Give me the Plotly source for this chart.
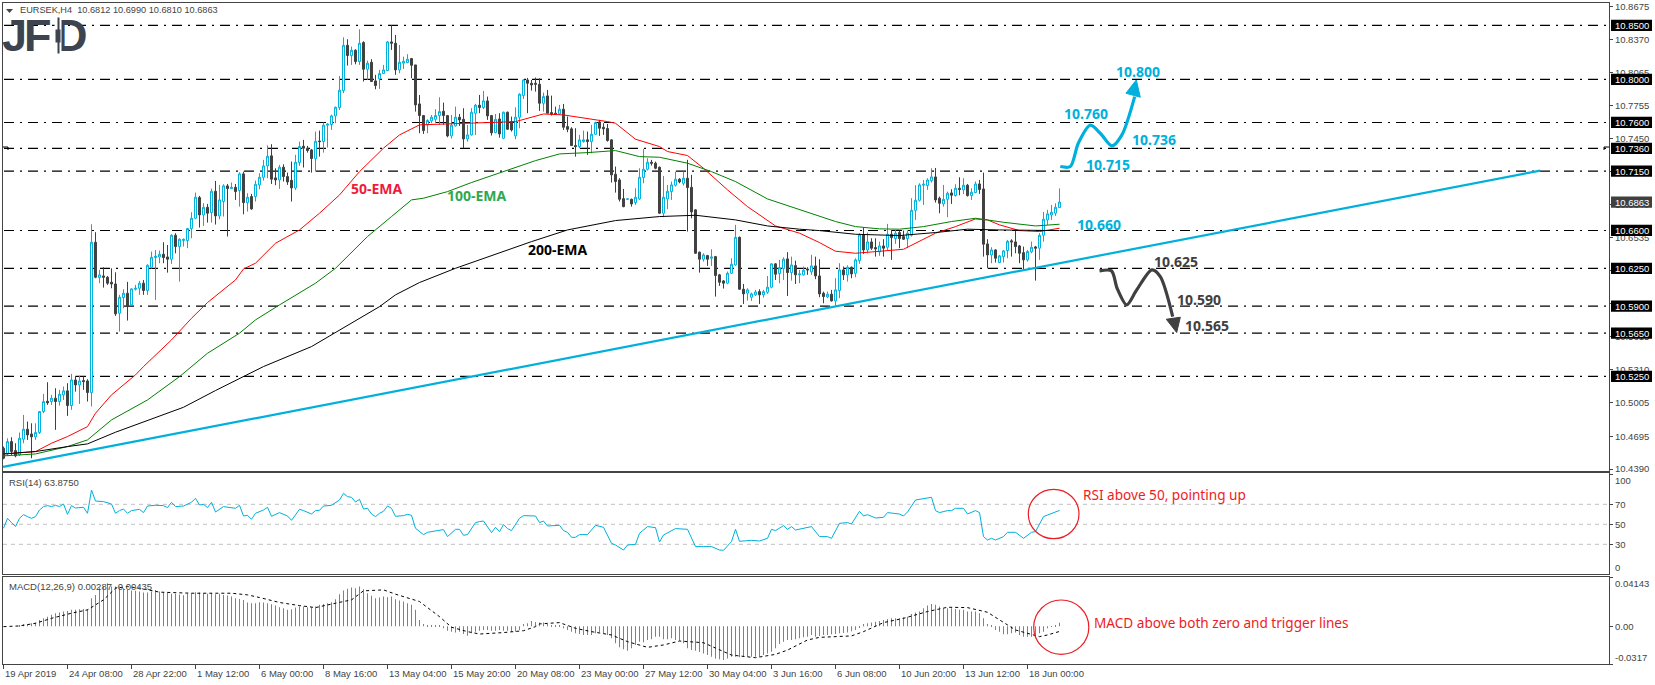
import plotly.graph_objects as go

W = 1655
H = 685

# candle values, one per bar
opens = [10.4584,10.4531,10.4645,10.4562,10.4522,10.4667,10.4760,10.4716,10.4689,10.4729,10.4923,10.5019,10.5016,10.5047,10.5016,10.5078,10.5115,10.4979,10.5216,10.5170,10.5210,10.5207,10.5099,10.6491,10.6164,10.6179,10.6167,10.6121,10.6105,10.5834,10.5979,10.6019,10.5911,10.6056,10.6065,10.6112,10.6044,10.6260,10.6349,10.6355,10.6380,10.6355,10.6334,10.6556,10.6451,10.6507,10.6507,10.6618,10.6713,10.6905,10.6744,10.6815,10.6766,10.6963,10.6735,10.6868,10.7013,10.6988,10.7000,10.6970,10.7124,10.6858,10.6914,10.6914,10.7022,10.7093,10.7198,10.7291,10.7087,10.7068,10.7186,10.7099,10.7065,10.6994,10.7229,10.7380,10.7362,10.7346,10.7266,10.7429,10.7423,10.7575,10.7581,10.7661,10.7738,10.7895,10.8315,10.8220,10.8269,10.8164,10.8340,10.8093,10.8158,10.7985,10.8004,10.8053,10.8081,10.8346,10.8334,10.8087,10.8149,10.8155,10.8192,10.8133,10.7772,10.7664,10.7578,10.7615,10.7630,10.7664,10.7704,10.7664,10.7476,10.7568,10.7649,10.7630,10.7448,10.7485,10.7686,10.7760,10.7738,10.7800,10.7664,10.7507,10.7633,10.7454,10.7695,10.7608,10.7476,10.7649,10.7849,10.7994,10.7963,10.7963,10.7954,10.7778,10.7846,10.7692,10.7686,10.7679,10.7723,10.7562,10.7541,10.7386,10.7377,10.7423,10.7439,10.7423,10.7491,10.7605,10.7556,10.7544,10.7439,10.7121,10.7068,10.6895,10.6889,10.6889,10.6858,10.6892,10.7090,10.7167,10.7232,10.7223,10.7186,10.6760,10.6892,10.6960,10.7019,10.7075,10.7037,10.7084,10.7000,10.6791,10.6399,10.6334,10.6368,10.6343,10.6358,10.6189,10.6133,10.6112,10.6204,10.6281,10.6537,10.6056,10.6019,10.5982,10.6004,10.6034,10.6004,10.6028,10.6075,10.6291,10.6201,10.6247,10.6337,10.6210,10.6275,10.6189,10.6189,10.6244,10.6216,10.6272,10.6179,10.6019,10.5985,10.6010,10.5948,10.6044,10.6235,10.6189,10.6260,10.6204,10.6321,10.6559,10.6420,10.6494,10.6442,10.6402,10.6457,10.6445,10.6565,10.6525,10.6581,10.6544,10.6525,10.6556,10.6787,10.6880,10.7019,10.7016,10.7062,10.7096,10.6899,10.6846,10.6889,10.6948,10.6923,10.6991,10.6976,10.7019,10.6923,10.6951,10.7031,10.6985,10.6476,10.6374,10.6420,10.6303,10.6358,10.6414,10.6504,10.6494,10.6457,10.6395,10.6328,10.6402,10.6448,10.6436,10.6556,10.6698,10.6744,10.6760,10.6812]
highs = [10.4599,10.4676,10.4686,10.4630,10.4729,10.4892,10.4831,10.4815,10.4815,10.4929,10.5087,10.5195,10.5078,10.5139,10.5124,10.5155,10.5186,10.5272,10.5254,10.5254,10.5247,10.5223,10.6658,10.6584,10.6235,10.6260,10.6179,10.6250,10.6213,10.6004,10.6056,10.6124,10.6065,10.6096,10.6133,10.6142,10.6287,10.6405,10.6420,10.6414,10.6491,10.6466,10.6565,10.6575,10.6528,10.6525,10.6624,10.6769,10.6951,10.6920,10.6852,10.6846,10.6988,10.7059,10.7022,10.7028,10.7031,10.7044,10.7031,10.7139,10.7145,10.6945,10.6939,10.7062,10.7130,10.7254,10.7389,10.7399,10.7176,10.7207,10.7213,10.7136,10.7238,10.7300,10.7423,10.7439,10.7383,10.7355,10.7516,10.7525,10.7599,10.7593,10.7673,10.7747,10.8031,10.8389,10.8371,10.8303,10.8278,10.8463,10.8352,10.8173,10.8186,10.8041,10.8087,10.8133,10.8355,10.8500,10.8411,10.8318,10.8210,10.8232,10.8195,10.8133,10.7855,10.7670,10.7630,10.7670,10.7723,10.7834,10.7784,10.7670,10.7670,10.7747,10.7679,10.7732,10.7578,10.7732,10.7772,10.7855,10.7892,10.7840,10.7670,10.7679,10.7686,10.7701,10.7701,10.7655,10.7741,10.7871,10.8000,10.8013,10.7994,10.8016,10.8010,10.7877,10.7902,10.7849,10.7747,10.7763,10.7772,10.7655,10.7556,10.7547,10.7485,10.7525,10.7516,10.7578,10.7608,10.7624,10.7593,10.7587,10.7445,10.7192,10.7084,10.6985,10.6895,10.6895,10.6991,10.7176,10.7355,10.7269,10.7254,10.7238,10.7192,10.7105,10.7022,10.7053,10.7145,10.7084,10.7145,10.7254,10.7115,10.6797,10.6405,10.6389,10.6374,10.6426,10.6365,10.6198,10.6142,10.6220,10.6343,10.6652,10.6544,10.6105,10.6065,10.6025,10.6050,10.6056,10.6050,10.6179,10.6297,10.6297,10.6328,10.6352,10.6399,10.6358,10.6321,10.6235,10.6266,10.6260,10.6374,10.6358,10.6334,10.6034,10.6034,10.6050,10.6158,10.6297,10.6266,10.6278,10.6266,10.6343,10.6575,10.6630,10.6581,10.6528,10.6528,10.6497,10.6519,10.6661,10.6605,10.6605,10.6599,10.6599,10.6599,10.6899,10.7019,10.7037,10.7068,10.7084,10.7176,10.7179,10.6914,10.7022,10.6960,10.6982,10.7028,10.7093,10.7084,10.7031,10.6991,10.7053,10.7068,10.7136,10.6519,10.6445,10.6426,10.6374,10.6420,10.6513,10.6519,10.6612,10.6466,10.6451,10.6420,10.6497,10.6457,10.6575,10.6772,10.6791,10.6837,10.6852,10.6990]
lows = [10.4482,10.4513,10.4522,10.4500,10.4513,10.4630,10.4661,10.4491,10.4661,10.4716,10.4908,10.4985,10.4985,10.4754,10.4979,10.5031,10.4883,10.4939,10.5108,10.4994,10.5124,10.5016,10.4970,10.6158,10.6112,10.6071,10.6096,10.6065,10.5809,10.5664,10.5880,10.5766,10.5902,10.6044,10.6004,10.6004,10.6004,10.6247,10.5957,10.6297,10.6297,10.6210,10.6291,10.6389,10.6127,10.6451,10.6436,10.6528,10.6704,10.6627,10.6642,10.6673,10.6673,10.6655,10.6704,10.6729,10.6544,10.6985,10.6883,10.6821,10.6750,10.6775,10.6791,10.6868,10.6982,10.7062,10.7084,10.7031,10.7019,10.6985,10.7053,10.7022,10.6868,10.6976,10.7198,10.7183,10.7321,10.7136,10.7145,10.7284,10.7321,10.7368,10.7531,10.7593,10.7716,10.7871,10.8127,10.8133,10.8139,10.8133,10.7979,10.7994,10.7976,10.7908,10.7911,10.8050,10.8075,10.8272,10.8041,10.8056,10.8096,10.8149,10.8010,10.7701,10.7500,10.7494,10.7500,10.7593,10.7593,10.7578,10.7578,10.7463,10.7451,10.7562,10.7568,10.7362,10.7423,10.7479,10.7485,10.7686,10.7723,10.7624,10.7479,10.7500,10.7460,10.7445,10.7531,10.7516,10.7445,10.7547,10.7818,10.7686,10.7895,10.7886,10.7707,10.7701,10.7686,10.7664,10.7670,10.7670,10.7531,10.7510,10.7383,10.7284,10.7362,10.7414,10.7300,10.7315,10.7485,10.7476,10.7485,10.7423,10.7044,10.6951,10.6868,10.6815,10.6883,10.6821,10.6837,10.6883,10.7037,10.7155,10.7201,10.7167,10.6754,10.6723,10.6797,10.6883,10.7007,10.7037,10.7016,10.6590,10.6713,10.6383,10.6210,10.6312,10.6272,10.6272,10.5988,10.6087,10.6062,10.6102,10.6198,10.6275,10.6050,10.5920,10.5951,10.5948,10.5994,10.5920,10.5979,10.6013,10.6065,10.6142,10.6112,10.6142,10.5994,10.6136,10.6105,10.6112,10.6183,10.6189,10.6189,10.6149,10.5982,10.5926,10.5973,10.5942,10.5905,10.5973,10.6142,10.6127,10.6158,10.6167,10.6291,10.6383,10.6389,10.6420,10.6358,10.6365,10.6358,10.6420,10.6328,10.6476,10.6436,10.6513,10.6436,10.6544,10.6698,10.6868,10.6837,10.6976,10.7044,10.6858,10.6760,10.6821,10.6723,10.6846,10.6914,10.6926,10.6936,10.6914,10.6883,10.6945,10.6939,10.6358,10.6250,10.6297,10.6303,10.6297,10.6303,10.6343,10.6358,10.6389,10.6297,10.6235,10.6312,10.6389,10.6136,10.6328,10.6497,10.6652,10.6698,10.6735,10.6810]
closes = [10.4491,10.4645,10.4553,10.4513,10.4676,10.4760,10.4707,10.4689,10.4729,10.4923,10.5016,10.5004,10.5047,10.5016,10.5084,10.5115,10.4979,10.5216,10.5170,10.5207,10.5201,10.5099,10.6491,10.6167,10.6189,10.6167,10.6112,10.6105,10.5828,10.5982,10.6019,10.5895,10.6059,10.6065,10.6112,10.6044,10.6278,10.6352,10.6362,10.6380,10.6349,10.6334,10.6556,10.6451,10.6519,10.6519,10.6618,10.6713,10.6908,10.6744,10.6815,10.6760,10.6963,10.6735,10.6883,10.7013,10.6988,10.7000,10.6960,10.7124,10.6858,10.6908,10.6800,10.7028,10.7093,10.7198,10.7287,10.7075,10.7068,10.7186,10.7099,10.7050,10.6994,10.7232,10.7377,10.7362,10.7340,10.7266,10.7426,10.7423,10.7575,10.7584,10.7661,10.7741,10.7899,10.8315,10.8220,10.8269,10.8164,10.8334,10.8093,10.8149,10.7979,10.7942,10.8053,10.8087,10.8346,10.8334,10.8087,10.8158,10.8167,10.8186,10.8130,10.7763,10.7664,10.7525,10.7618,10.7649,10.7664,10.7701,10.7664,10.7476,10.7575,10.7649,10.7624,10.7448,10.7485,10.7695,10.7760,10.7738,10.7800,10.7661,10.7504,10.7630,10.7494,10.7695,10.7537,10.7531,10.7649,10.7862,10.7994,10.7963,10.7948,10.7954,10.7778,10.7840,10.7686,10.7679,10.7676,10.7723,10.7556,10.7537,10.7386,10.7377,10.7439,10.7439,10.7423,10.7491,10.7599,10.7547,10.7541,10.7433,10.7115,10.7053,10.6889,10.6821,10.6892,10.6846,10.6908,10.7093,10.7167,10.7232,10.7223,10.7176,10.6760,10.6908,10.6963,10.7022,10.7075,10.7050,10.7084,10.6997,10.6772,10.6389,10.6334,10.6374,10.6334,10.6355,10.6183,10.6121,10.6112,10.6204,10.6287,10.6537,10.6056,10.6013,10.6050,10.6013,10.6031,10.6004,10.6034,10.6075,10.6291,10.6195,10.6254,10.6334,10.6210,10.6281,10.6189,10.6198,10.6232,10.6235,10.6272,10.6179,10.6013,10.5988,10.6010,10.5948,10.6050,10.6235,10.6189,10.6260,10.6198,10.6328,10.6559,10.6420,10.6494,10.6436,10.6429,10.6457,10.6436,10.6565,10.6534,10.6575,10.6525,10.6519,10.6575,10.6787,10.6880,10.7022,10.7028,10.7068,10.7096,10.6883,10.6852,10.6889,10.6945,10.6926,10.6991,10.6979,10.7019,10.6923,10.6954,10.7031,10.6979,10.6473,10.6374,10.6420,10.6343,10.6365,10.6411,10.6500,10.6494,10.6451,10.6389,10.6328,10.6405,10.6445,10.6436,10.6556,10.6704,10.6754,10.6769,10.6815,10.6863]

ema50_bars = [0,8,12,16,21,23,27,33,35,42,47,51,58,60,63,68,74,79,84,89,95,99,104,111,120,128,135,140,151,153,158,164,166,171,175,181,186,193,199,204,208,213,225,228,233,238,243,246,249,254,259,264]
ema50 = [10.4531,10.4553,10.4630,10.4692,10.4784,10.4908,10.5078,10.5263,10.5340,10.5587,10.5787,10.5933,10.6142,10.6244,10.6297,10.6482,10.6605,10.6760,10.6929,10.7145,10.7362,10.7485,10.7578,10.7587,10.7599,10.7608,10.7679,10.7670,10.7608,10.7593,10.7445,10.7377,10.7331,10.7294,10.7176,10.6976,10.6821,10.6642,10.6575,10.6488,10.6408,10.6389,10.6426,10.6482,10.6575,10.6636,10.6707,10.6698,10.6652,10.6599,10.6590,10.6621]
ema100_bars = [0,8,16,21,27,36,44,51,59,63,69,78,83,91,97,102,105,111,117,126,133,139,146,153,159,164,171,177,183,191,199,208,213,219,224,230,237,243,250,258,264]
ema100 = [10.4513,10.4531,10.4599,10.4661,10.4846,10.5031,10.5247,10.5463,10.5649,10.5772,10.5911,10.6112,10.6250,10.6544,10.6729,10.6883,10.6899,10.6960,10.7044,10.7155,10.7247,10.7309,10.7321,10.7340,10.7284,10.7278,10.7223,10.7145,10.7053,10.6892,10.6797,10.6683,10.6636,10.6615,10.6612,10.6636,10.6683,10.6713,10.6676,10.6642,10.6658]
ema200_bars = [0,8,16,21,28,34,45,53,65,77,83,94,98,104,113,123,132,141,153,164,173,183,191,199,204,213,224,233,241,249,259,264]
ema200 = [10.4531,10.4553,10.4599,10.4624,10.4732,10.4815,10.4963,10.5118,10.5340,10.5525,10.5658,10.5895,10.6004,10.6118,10.6250,10.6383,10.6497,10.6605,10.6692,10.6729,10.6741,10.6698,10.6642,10.6612,10.6599,10.6565,10.6553,10.6581,10.6612,10.6605,10.6599,10.6599]

rsi_bars = [0,1,2,3,4,5,6,7,8,9,10,11,12,13,14,15,16,17,18,20,21,22,23,25,27,28,29,30,31,32,34,35,36,38,40,41,42,43,45,47,48,49,50,51,52,53,55,57,58,59,60,61,62,63,65,66,67,69,71,72,74,75,77,78,79,80,82,84,85,86,87,88,89,90,91,92,93,94,95,96,97,98,100,101,102,103,104,105,106,108,110,111,113,114,115,116,118,119,120,122,123,124,125,126,127,129,130,133,134,135,136,139,140,141,142,143,144,146,148,150,152,153,155,156,158,159,161,163,164,165,168,171,173,175,177,179,180,182,183,184,187,189,191,192,193,195,196,197,198,202,204,206,207,209,210,211,212,214,215,216,218,220,221,224,225,226,228,230,232,233,234,236,237,238,240,241,243,244,245,246,247,248,250,251,253,255,257,258,260,261,264]
rsi = [46.0,56.0,51.7,47.7,56.0,59.7,57.7,56.0,57.7,64.3,67.7,68.7,67.7,69.0,67.7,70.3,60.0,68.7,66.3,67.0,61.0,84.3,73.3,72.7,70.3,61.0,63.7,65.3,61.0,63.7,65.0,61.7,68.3,69.0,68.7,66.7,72.0,67.7,68.3,72.0,76.0,69.3,70.0,66.7,72.0,62.3,67.7,67.0,66.0,69.0,58.3,59.0,55.0,61.0,64.3,67.0,58.0,61.7,58.3,54.0,65.0,63.7,60.3,63.7,64.0,68.3,69.0,74.3,81.0,77.7,77.0,72.3,75.0,65.3,66.0,60.3,57.7,61.0,63.0,68.3,66.0,58.0,58.7,60.0,59.0,46.0,43.3,39.7,42.0,43.7,44.7,37.7,45.0,45.0,39.0,39.7,51.7,52.7,53.3,41.7,47.0,42.7,49.7,45.7,43.7,56.0,58.7,58.3,51.7,53.3,48.3,49.0,43.7,42.0,37.0,37.0,39.7,39.7,49.0,47.0,31.0,29.3,24.3,29.3,30.0,41.0,47.7,46.7,32.3,39.3,45.7,45.0,27.7,27.7,27.7,24.3,24.0,32.7,45.0,33.0,34.0,33.3,36.0,45.0,43.7,48.7,45.0,47.7,44.3,47.7,37.7,37.7,36.0,51.0,51.0,51.7,50.3,63.0,58.3,59.7,56.3,57.0,61.7,60.3,58.3,62.3,74.3,75.7,77.0,63.7,61.7,63.7,63.7,66.0,66.0,60.3,63.7,61.7,37.7,34.3,36.0,34.3,37.7,42.0,42.0,36.0,42.0,42.7,57.7,59.3,63.875]

macd_hist = [0,0,0,0,0.0003,0.0020,0.0020,0.0025,0.0031,0.0053,0.0067,0.0081,0.0098,0.0110,0.0115,0.0124,0.0129,0.0138,0.0138,0.0143,0.0146,0.0146,0.0236,0.0264,0.0320,0.0334,0.0362,0.0334,0.0334,0.0334,0.0320,0.0306,0.0301,0.0298,0.0292,0.0284,0.0284,0.0292,0.0306,0.0292,0.0284,0.0284,0.0273,0.0273,0.0267,0.0261,0.0273,0.0278,0.0287,0.0284,0.0278,0.0273,0.0278,0.0270,0.0273,0.0264,0.0259,0.0250,0.0236,0.0230,0.0222,0.0200,0.0194,0.0194,0.0202,0.0200,0.0194,0.0185,0.0174,0.0160,0.0152,0.0138,0.0143,0.0157,0.0166,0.0166,0.0160,0.0157,0.0166,0.0180,0.0188,0.0194,0.0202,0.0228,0.0270,0.0301,0.0315,0.0326,0.0320,0.0334,0.0312,0.0278,0.0256,0.0236,0.0242,0.0250,0.0244,0.0250,0.0228,0.0216,0.0208,0.0194,0.0180,0.0138,0.0053,0.0020,0.0006,0.0003,0.0003,0.0006,-0.0017,-0.0037,-0.0045,-0.0053,-0.0045,-0.0065,-0.0079,-0.0059,-0.0045,-0.0037,-0.0031,-0.0031,-0.0037,-0.0037,-0.0031,-0.0037,-0.0037,-0.0045,-0.0045,-0.0031,0.0020,0.0025,0.0045,0.0037,0.0031,0.0031,0.0020,0.0011,0.0003,0.0011,-0.0017,-0.0031,-0.0045,-0.0059,-0.0065,-0.0073,-0.0073,-0.0073,-0.0059,-0.0051,-0.0059,-0.0073,-0.0101,-0.0143,-0.0177,-0.0194,-0.0205,-0.0185,-0.0157,-0.0129,-0.0135,-0.0115,-0.0110,-0.0087,-0.0087,-0.0110,-0.0110,-0.0101,-0.0115,-0.0121,-0.0143,-0.0185,-0.0200,-0.0205,-0.0216,-0.0228,-0.0242,-0.0256,-0.0270,-0.0278,-0.0284,-0.0270,-0.0256,-0.0256,-0.0261,-0.0256,-0.0256,-0.0256,-0.0256,-0.0256,-0.0242,-0.0228,-0.0214,-0.0185,-0.0149,-0.0129,-0.0115,-0.0115,-0.0110,-0.0101,-0.0093,-0.0087,-0.0073,-0.0087,-0.0081,-0.0073,-0.0073,-0.0067,-0.0065,-0.0059,-0.0056,-0.0053,-0.0042,-0.0031,-0.0008,0.0020,0.0025,0.0031,0.0039,0.0045,0.0053,0.0062,0.0067,0.0067,0.0067,0.0076,0.0081,0.0104,0.0115,0.0124,0.0152,0.0174,0.0188,0.0180,0.0166,0.0152,0.0152,0.0152,0.0146,0.0138,0.0138,0.0124,0.0124,0.0124,0.0110,0.0067,0.0020,0.0003,-0.0031,-0.0045,-0.0067,-0.0067,-0.0059,-0.0053,-0.0073,-0.0087,-0.0087,-0.0087,-0.0087,-0.0059,-0.0045,-0.0017,-0.0003,0.0003,0.00287]
signal_bars = [0,4,8,12,17,21,25,28,31,34,39,47,57,61,64,69,74,78,83,87,90,95,98,104,109,112,116,119,125,130,133,134,139,143,147,152,156,161,165,169,175,178,182,188,193,196,201,204,212,215,220,225,231,236,241,246,251,253,259,261,264]
signal = [-0.0003,0.0003,0.0025,0.0067,0.0110,0.0138,0.0222,0.0320,0.0334,0.0320,0.0287,0.0278,0.0278,0.0264,0.0242,0.0200,0.0174,0.0157,0.0194,0.0222,0.0298,0.0306,0.0270,0.0208,0.0081,-0.0008,-0.0045,-0.0065,-0.0053,-0.0037,-0.0003,0.0020,0.0031,-0.0017,-0.0045,-0.0073,-0.0129,-0.0177,-0.0157,-0.0124,-0.0138,-0.0185,-0.0242,-0.0264,-0.0236,-0.0200,-0.0115,-0.0093,-0.0081,-0.0045,0.0031,0.0067,0.0124,0.0160,0.0157,0.0118,0.0011,-0.0031,-0.0087,-0.0073,-0.00435]

# horizontal levels and axis labels
levels = [10.85, 10.80, 10.76, 10.736, 10.715, 10.66, 10.625, 10.59, 10.565, 10.525]
last_price = 10.6863
price_ticks = [10.8675,10.8370,10.8065,10.7755,10.7450,10.7145,10.6840,10.6535,10.6230,10.5925,10.5615,10.5310,10.5005,10.4695,10.4390]
rsi_levels = [70, 50, 30]
rsi_ticks = [100, 70, 50, 30, 0]
macd_ticks = [0.04143, 0.0, -0.0317]
time_ticks = list(range(0, 257, 16))
time_labels = ["19 Apr 2019","24 Apr 08:00","28 Apr 22:00","1 May 12:00","6 May 00:00","8 May 16:00","13 May 04:00","15 May 20:00","20 May 08:00","23 May 00:00","27 May 12:00","30 May 04:00","3 Jun 16:00","6 Jun 08:00","10 Jun 20:00","13 Jun 12:00","18 Jun 00:00"]

# rising support line
trend_bars = [-0.1, 384.2]
trend_prices = [10.4411, 10.7155]

# scenario arrows
up_bars = [264.2,266.7,268.7,271.7,274.2,277.1,279.6,282.8]
up_prices = [10.7192,10.7192,10.7408,10.7575,10.7500,10.7383,10.7485,10.7840]
up_head_bars = [280.6,284.2,283.2,280.6]
up_head_prices = [10.7871,10.7834,10.7994,10.7871]
down_bars = [274,277,278.4,280.8,283.3,287.1,289.2,292.3]
down_prices = [10.6226,10.6226,10.6065,10.5911,10.6050,10.6235,10.6173,10.5803]
down_head_bars = [290.7,294.2,293.3,290.7]
down_head_prices = [10.5778,10.5797,10.5655,10.5778]

CYAN = "#00B0DC"
DARK = "#404040"
RED = "#ED1C24"
LOGO = "#3D4450"
FONT = "Liberation Sans"
FRAME = "#444444"
SMALL = 9.5


def px(x):
    return x / W


def py(y):
    return 1 - y / H


# 4 screen pixels per bar, bars centred on a pixel so thin marks stay crisp
x_range = [-0.125, 401.375]
bars = list(range(len(closes)))

fig = go.Figure()

fig.add_trace(go.Scatter(x=trend_bars, y=trend_prices, mode="lines", line=dict(color=CYAN, width=2.2)))

fig.add_trace(go.Candlestick(
    x=bars, open=opens, high=highs, low=lows, close=closes,
    increasing=dict(line=dict(color=CYAN, width=1), fillcolor="white"),
    decreasing=dict(line=dict(color=DARK, width=1), fillcolor=DARK),
    whiskerwidth=0,
))

fig.add_trace(go.Scatter(x=ema50_bars, y=ema50, mode="lines", line=dict(color="#FF0000", width=1)))
fig.add_trace(go.Scatter(x=ema100_bars, y=ema100, mode="lines", line=dict(color="#008000", width=1)))
fig.add_trace(go.Scatter(x=ema200_bars, y=ema200, mode="lines", line=dict(color="#000000", width=1)))

# scenario paths with their arrow heads
fig.add_trace(go.Scatter(x=up_bars, y=up_prices, mode="lines", line=dict(color=CYAN, width=3.2, shape="spline", smoothing=0.8)))
fig.add_trace(go.Scatter(x=up_head_bars, y=up_head_prices, mode="lines", fill="toself", fillcolor=CYAN, line=dict(color=CYAN, width=1)))
fig.add_trace(go.Scatter(x=down_bars, y=down_prices, mode="lines", line=dict(color=DARK, width=3.2, shape="spline", smoothing=0.8)))
fig.add_trace(go.Scatter(x=down_head_bars, y=down_head_prices, mode="lines", fill="toself", fillcolor=DARK, line=dict(color=DARK, width=1)))

fig.add_trace(go.Scatter(x=rsi_bars, y=rsi, xaxis="x2", yaxis="y2", mode="lines", line=dict(color=CYAN, width=1)))

fig.add_trace(go.Bar(x=bars, y=macd_hist, xaxis="x3", yaxis="y3", width=0.25, marker=dict(color=CYAN, line=dict(width=0))))
fig.add_trace(go.Scatter(x=signal_bars, y=signal, xaxis="x3", yaxis="y3", mode="lines", line=dict(color="#000000", width=1, dash="3px,3px")))

shapes = []
for level in levels:
    shapes.append(dict(type="line", xref="paper", yref="y", x0=px(4), x1=px(1606), y0=level, y1=level,
                       line=dict(color="#000000", width=1.2, dash="10px,6px,2px,6px"), layer="below"))
for level in rsi_levels:
    shapes.append(dict(type="line", xref="paper", yref="y2", x0=px(3), x1=px(1609), y0=level, y1=level,
                       line=dict(color="#C0C0C0", width=1, dash="4px,4px"), layer="below"))

# indicator circles
shapes.append(dict(type="circle", xref="paper", yref="paper", x0=px(1028.3), x1=px(1079), y0=py(538.7), y1=py(489.3),
                   line=dict(color=RED, width=1.2)))
shapes.append(dict(type="circle", xref="paper", yref="paper", x0=px(1033.7), x1=px(1088.8), y0=py(654.3), y1=py(600),
                   line=dict(color=RED, width=1.2)))

# small marks at the ends of the 10.736 line
for x0, x1, y0, y1 in [(3, 8, 147, 147), (8, 8, 147, 150), (1604, 1609, 147, 147), (1604, 1604, 147, 150)]:
    shapes.append(dict(type="line", xref="paper", yref="paper", x0=px(x0), x1=px(x1), y0=py(y0), y1=py(y1),
                       line=dict(color="#000000", width=1)))

# header triangle
shapes.append(dict(type="path", xref="paper", yref="paper",
                   path=f"M {px(6)} {py(9)} L {px(13)} {py(9)} L {px(9.5)} {py(13)} Z",
                   fillcolor=FRAME, line=dict(width=0)))

annotations = []


def add_text(x, y, text, color, size, bold=False, anchor="center", family=FONT):
    annotations.append(dict(xref="paper", yref="paper", x=px(x), y=py(y), text=f"<b>{text}</b>" if bold else text,
                            showarrow=False, xanchor=anchor, yanchor="middle",
                            font=dict(family=family, size=size, color=color)))


def add_box(x, y, width, height, color):
    annotations.append(dict(xref="paper", yref="paper", x=px(x), y=py(y), text=" ", showarrow=False,
                            width=width, height=height, bgcolor=color, borderpad=0,
                            font=dict(size=1), xanchor="center", yanchor="middle"))


for letter, x in [("J", 14), ("F", 38), ("D", 71)]:
    add_text(x, 36, letter, LOGO, 45, bold=True)

# candle cut into the left of the D
add_box(58, 36, 6, 40, "white")
add_box(58, 36, 1, 35, LOGO)
add_box(58, 36, 4, 12, LOGO)

add_text(18, 10.5, "EURSEK,H4  10.6812 10.6990 10.6810 10.6863", "#444444", 9.2, anchor="left")
add_text(7, 482, "RSI(14) 63.8750", "#444444", SMALL, anchor="left")
add_text(7, 586, "MACD(12,26,9) 0.00287 -0.00435", "#444444", SMALL, anchor="left")

add_text(377, 189, "50-EMA", "#ED1C3C", 14, bold=True, family="Noto Sans")
add_text(476.7, 195, "100-EMA", "#2FA84F", 14, bold=True, family="Noto Sans")
add_text(558, 249, "200-EMA", "#000000", 14, bold=True, family="Noto Sans")

for x, y, text in [(1138, 72, "10.800"), (1086, 114, "10.760"), (1154, 140, "10.736"), (1108, 164, "10.715"), (1099, 224, "10.660")]:
    add_text(x, y, text, CYAN, 14, bold=True, family="Noto Sans")
for x, y, text in [(1176, 261, "10.625"), (1199, 299, "10.590"), (1207, 325, "10.565")]:
    add_text(x, y, text, DARK, 14, bold=True, family="Noto Sans")

add_text(1081.3, 494, "RSI above 50, pointing up", RED, 13.6, anchor="left", family="Noto Sans")
add_text(1092.3, 622, "MACD above both zero and trigger lines", RED, 13.6, anchor="left", family="Noto Sans")

# indicator axis labels sit off their ticks, as on the terminal
for y, text in zip([480, 504.3, 524.3, 544.3, 567], rsi_ticks):
    add_text(1613, y, str(text), "#444444", SMALL, anchor="left")
for y, text in zip([583.7, 626.3, 657.7], ["0.04143", "0.00", "-0.0317"]):
    add_text(1613, y, text, "#444444", SMALL, anchor="left")

# time labels start at their tick
for bar, text in zip(time_ticks, time_labels):
    annotations.append(dict(xref="x3", yref="paper", x=bar, y=py(673), text=text, showarrow=False,
                            xanchor="left", yanchor="middle", xshift=-1,
                            font=dict(family=FONT, size=SMALL, color="#444444")))

# price tags on the right
for level in levels + [last_price]:
    shapes.append(dict(type="rect", xref="paper", yref="y", x0=px(1611), x1=px(1652), y0=level - 0.0052, y1=level + 0.0052,
                       fillcolor=DARK if level == last_price else "#000000", line=dict(width=0)))
    annotations.append(dict(xref="paper", yref="y", x=px(1631.5), y=level, text=f"{level:.4f}", showarrow=False,
                            xanchor="center", yanchor="middle",
                            font=dict(family=FONT, size=SMALL, color="white")))

axis_style = dict(showgrid=False, zeroline=False, showline=True, mirror=True, linecolor=FRAME, linewidth=1)

fig.update_layout(
    width=W, height=H,
    margin=dict(l=0, r=0, t=0, b=0, autoexpand=False),
    paper_bgcolor="white", plot_bgcolor="white",
    showlegend=False, hovermode=False,
    font=dict(family=FONT, size=SMALL, color="#444444"),
    shapes=shapes, annotations=annotations,
    xaxis=dict(domain=[px(3), px(1609)], range=x_range, anchor="y", showticklabels=False, ticks="",
               rangeslider=dict(visible=False), **axis_style),
    yaxis=dict(domain=[py(471), py(2.5)], range=[10.4373, 10.8711], anchor="x", side="right",
               tickvals=price_ticks, ticktext=[f"{t:.4f}" for t in price_ticks], ticks="outside", ticklen=3,
               tickcolor=FRAME, **axis_style),
    xaxis2=dict(domain=[px(3), px(1609)], range=x_range, anchor="y2", showticklabels=False, ticks="", **axis_style),
    yaxis2=dict(domain=[py(574), py(473)], range=[0.3, 101.3], anchor="x2", side="right",
                tickvals=rsi_ticks, showticklabels=False, ticks="outside", ticklen=3, tickcolor=FRAME, **axis_style),
    xaxis3=dict(domain=[px(3), px(1609)], range=x_range, anchor="y3", tickvals=time_ticks, showticklabels=False,
                ticks="outside", ticklen=4, tickcolor=FRAME, **axis_style),
    yaxis3=dict(domain=[py(664), py(577)], range=[-0.0317, 0.04143], anchor="x3", side="right",
                tickvals=macd_ticks, showticklabels=False, ticks="outside", ticklen=3, tickcolor=FRAME, **axis_style),
)

# browser default body margin would push the chart 8px off the window
fig.write_html("out.html", config=dict(displayModeBar=False), post_script="document.body.style.margin='0';")
